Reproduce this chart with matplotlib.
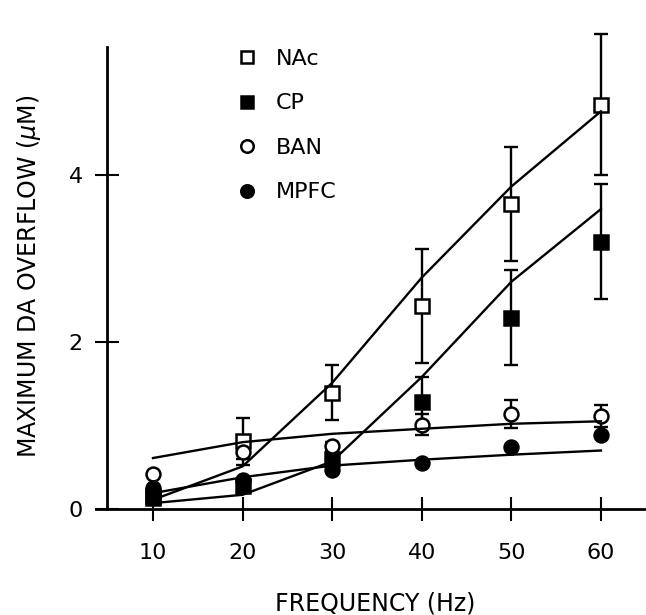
import matplotlib
matplotlib.use("Agg")
import matplotlib.pyplot as plt
from matplotlib.lines import Line2D

plt.rcParams['font.family'] = ['DejaVu Sans']

freq = [10, 20, 30, 40, 50, 60]

nac_mean = [0.15, 0.81, 1.39, 2.43, 3.65, 4.84]
nac_err = [0.0, 0.28, 0.33, 0.68, 0.68, 0.84]
nac_fit = [0.11, 0.51, 1.51, 2.77, 3.86, 4.76]

cp_mean = [0.13, 0.28, 0.60, 1.28, 2.29, 3.20]
cp_err = [0.0, 0.0, 0.08, 0.30, 0.57, 0.69]
cp_fit = [0.07, 0.17, 0.57, 1.58, 2.72, 3.59]

ban_mean = [0.42, 0.68, 0.75, 1.01, 1.14, 1.11]
ban_err = [0.0, 0.08, 0.05, 0.13, 0.17, 0.13]
ban_fit = [0.61, 0.80, 0.90, 0.96, 1.02, 1.05]

mpfc_mean = [0.25, 0.35, 0.47, 0.55, 0.74, 0.89]
mpfc_err = [0.0, 0.0, 0.0, 0.0, 0.0, 0.0]
mpfc_fit = [0.19, 0.38, 0.52, 0.59, 0.65, 0.70]

labels = ["NAc", "CP", "BAN", "MPFC"]
xticks = [10, 20, 30, 40, 50, 60]
yticks = [0, 2, 4]

W, H = 646, 615
fig = plt.figure(figsize=(W / 100, H / 100), dpi=100)
ax = fig.add_axes([96 / W, 106 / H, 550 / W, 462 / H])
ax.set_xlim(3.64, 65.03)
ax.set_ylim(0, 5.53)

lw = 1.7
ms = 10
series = [
    (nac_mean, nac_err, nac_fit, 's', 'white'),
    (cp_mean, cp_err, cp_fit, 's', 'black'),
    (ban_mean, ban_err, ban_fit, 'o', 'white'),
    (mpfc_mean, mpfc_err, mpfc_fit, 'o', 'black'),
]
handles = []
for (m, e, f, mk, fc), lab in zip(series, labels):
    ax.errorbar(freq, m, yerr=e, fmt='none',
                ecolor='black', elinewidth=lw, capsize=5, capthick=lw,
                zorder=2, clip_on=False)
    ax.plot(freq, m, linestyle='none', marker=mk, markersize=ms,
            markerfacecolor=fc, markeredgecolor='black', markeredgewidth=1.8,
            zorder=3, clip_on=False)
    ax.plot(freq, f, color='black', linewidth=lw, zorder=4, clip_on=False)
    handles.append(Line2D([], [], linestyle='none', marker=mk, markersize=9,
                          markerfacecolor=fc, markeredgecolor='black',
                          markeredgewidth=1.8, label=lab))

leg = ax.legend(handles=handles, loc='upper left',
                bbox_to_anchor=((236 - 96) / 550, (509 - 49) / 462),
                frameon=False, fontsize=16, handlelength=1.0,
                handletextpad=0.8, labelspacing=1.1, borderpad=0,
                borderaxespad=0, numpoints=1)

for s in ['top', 'right']:
    ax.spines[s].set_visible(False)
ax.spines['left'].set_position(('data', 4.87))
ax.spines['left'].set_linewidth(2)
ax.spines['bottom'].set_linewidth(2)

ax.set_xticks(xticks)
ax.set_xticklabels([str(v) for v in xticks])
ax.set_yticks(yticks)
ax.set_yticklabels([str(v) for v in yticks])
ax.tick_params(axis='both', direction='inout', length=17, width=1.5,
               labelsize=16)
ax.tick_params(axis='x', pad=16)
ax.tick_params(axis='y', pad=9)

fig.text(375 / W, 1 - 603 / H, "FREQUENCY (Hz)", ha='center', va='center',
         fontsize=17)
fig.text(29 / W, 1 - 276 / H, r"MAXIMUM DA OVERFLOW ($\mu$M)", ha='center',
         va='center', rotation=90, fontsize=17)

fig.savefig("out.png", dpi=100)
